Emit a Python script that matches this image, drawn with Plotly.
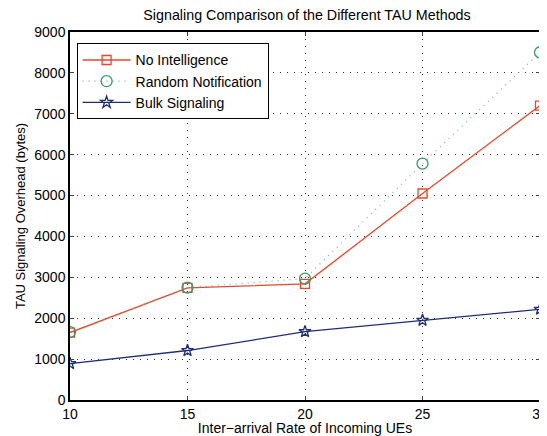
import plotly.graph_objects as go

x = [10, 15, 20, 25, 30]
no_intel = [1650, 2740, 2840, 5050, 7200]
random_notif = [1660, 2750, 2970, 5780, 8500]
bulk = [890, 1210, 1670, 1950, 2220]

red = "#e8472b"
green = "#3a9a68"
blue = "#1f2d78"

fig = go.Figure()
fig.add_trace(go.Scatter(x=x, y=no_intel, mode="lines+markers", name="No Intelligence",
                         line=dict(color=red, width=1.3),
                         marker=dict(symbol="square-open", size=9, color=red, line=dict(width=1.3))))
fig.add_trace(go.Scatter(x=x, y=random_notif, mode="lines+markers", name="Random Notification",
                         line=dict(color="#6fb596", width=1.2, dash="1px,5px"),
                         marker=dict(symbol="circle-open", size=11, color=green, line=dict(width=1.3))))
fig.add_trace(go.Scatter(x=x, y=bulk, mode="lines+markers", name="Bulk Signaling",
                         line=dict(color=blue, width=1.3),
                         marker=dict(symbol="star-open", size=9, color=blue, line=dict(width=1.3))))

# the page body adds an 8px offset; size and margins compensate so the plot sits where the reference has it
W, H = 539, 428
font = "Liberation Sans, Arial, sans-serif"
grid = dict(showgrid=True, gridcolor="#333333", griddash="1px,6px", gridwidth=1)
fig.update_layout(
    width=W, height=H,
    margin=dict(l=62, r=7, t=24, b=36),
    paper_bgcolor="white", plot_bgcolor="white",
    font=dict(family=font, size=14, color="black"),
    title=dict(text="Signaling Comparison of the Different TAU Methods", x=299/W, xanchor="center",
               y=1 - 7/H, yanchor="middle", font=dict(size=14.3)),
    legend=dict(x=0.014, y=0.969, xanchor="left", yanchor="top", bordercolor="black", borderwidth=1,
                bgcolor="white", font=dict(size=14), tracegroupgap=0, itemwidth=48),
    showlegend=True,
)
fig.update_xaxes(range=[10, 30], tickvals=x, ticks="inside", ticklen=4, mirror="ticks",
                 showline=True, linecolor="black", linewidth=1.5, automargin=False,
                 ticklabeloverflow="allow",
                 zeroline=False, tickfont=dict(size=14), **grid,
                 title=dict(text="Inter\u2212arrival Rate of Incoming UEs", standoff=2, font=dict(size=14)))
fig.update_yaxes(range=[0, 9000], tickvals=list(range(0, 9001, 1000)), ticks="inside", ticklen=4,
                 mirror="ticks", showline=True, linecolor="black", linewidth=1.5, automargin=False,
                 zeroline=False, tickfont=dict(size=14), **grid,
                 title=dict(text="TAU Signaling Overhead (bytes)", standoff=6, font=dict(size=13)))
fig.write_html("out.html")
